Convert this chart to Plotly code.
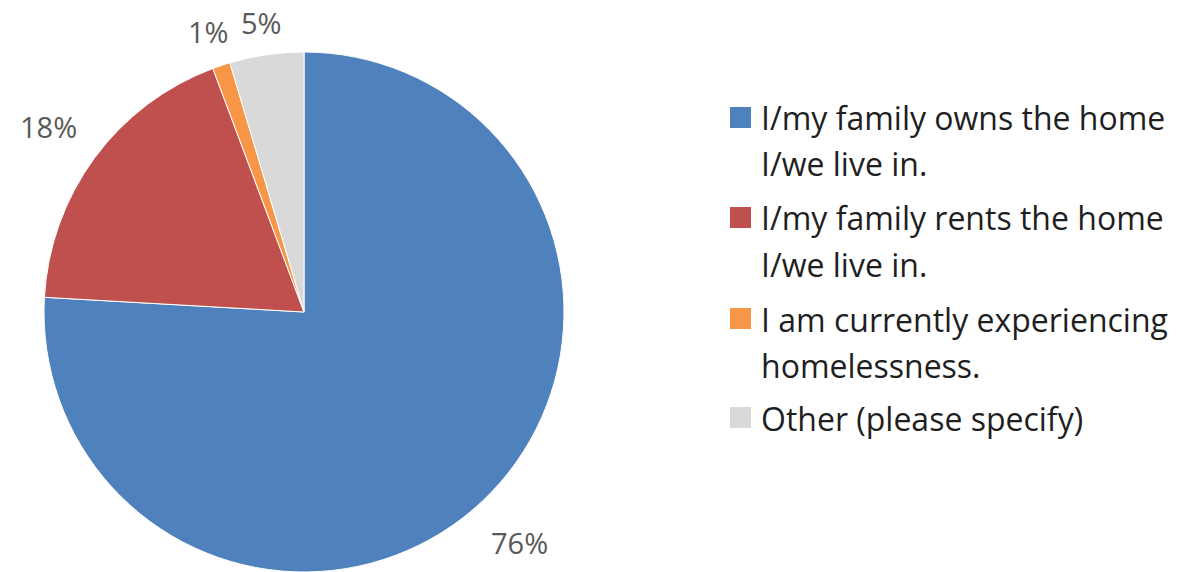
import math
import plotly.graph_objects as go

categories = [
    "I/my family owns the home I/we live in.",
    "I/my family rents the home I/we live in.",
    "I am currently experiencing homelessness.",
    "Other (please specify)",
]
legend_lines = [
    ["I/my family owns the home", "I/we live in."],
    ["I/my family rents the home", "I/we live in."],
    ["I am currently experiencing", "homelessness."],
    ["Other (please specify)"],
]
values = [75.9, 18.4, 1.1, 4.6]
colors = ["#4F81BD", "#C0504D", "#F79646", "#D9D9D9"]

W, H = 1194, 572
FONT = "Open Sans"
cx, cy, R = 304, 312, 260  # pixel geometry of pie

fig = go.Figure(go.Pie(
    labels=categories,
    values=values,
    sort=False,
    direction="clockwise",
    rotation=0,
    marker=dict(colors=colors, line=dict(color="white", width=1)),
    textinfo="none",
    hoverinfo="label+percent",
    domain=dict(x=[(cx - R) / W, (cx + R) / W], y=[max(0, (H - cy - R) / H), (H - cy + R) / H]),
    showlegend=False,
))

annotations = []
shapes = []
total = sum(values)
cum = 0
LBL = 29
for v in values:
    mid = (cum + v / 2) / total * 2 * math.pi
    cum += v
    txt = f"{round(v / total * 100)}%"
    dx, dy = math.sin(mid), -math.cos(mid)
    hw = 0.345 * LBL * len(txt)
    r = R * 1.127 + hw * abs(dx)
    px = cx + dx * r
    py = cy + dy * r + 3
    annotations.append(dict(
        x=px / W, y=1 - py / H, xref="paper", yref="paper",
        text=txt, showarrow=False, xanchor="center", yanchor="middle",
        font=dict(family=FONT, size=LBL, color="#595959"),
    ))

# custom legend
item_top = [128, 228, 329, 428]  # baseline of first line of each item
line_gap = 46
sq = 21
for i, lines in enumerate(legend_lines):
    base = item_top[i]
    shapes.append(dict(
        type="rect", xref="paper", yref="paper",
        x0=730 / W, x1=(730 + sq) / W,
        y0=1 - base / H, y1=1 - (base - sq) / H,
        fillcolor=colors[i], line=dict(width=0),
    ))
    for j, ln in enumerate(lines):
        b = base + j * line_gap
        annotations.append(dict(
            x=759 / W, y=1 - (b - 10) / H, xref="paper", yref="paper",
            text=ln, showarrow=False, xanchor="left", yanchor="middle",
            font=dict(family=FONT, size=32, color="#1f1f1f"),
        ))

fig.update_layout(
    width=W, height=H,
    margin=dict(l=0, r=0, t=0, b=0),
    paper_bgcolor="white", plot_bgcolor="white",
    annotations=annotations, shapes=shapes,
)
fig.write_html("out.html")
